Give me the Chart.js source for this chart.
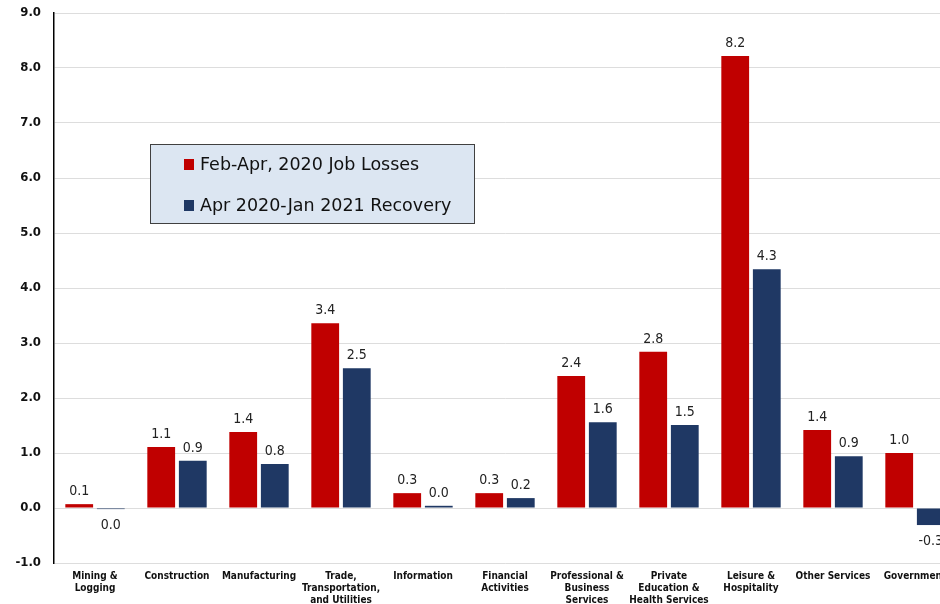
<!DOCTYPE html>
<html>
<head>
<meta charset="utf-8">
<title>Job Losses and Recovery by Industry</title>
<script src="https://cdn.jsdelivr.net/npm/chart.js@4/dist/chart.umd.min.js"></script>
<style>
  html, body { margin: 0; padding: 0; background: #fff; overflow: hidden; }
  #wrap { position: relative; width: 990px; height: 604px; }
</style>
</head>
<body>
<div id="wrap"><canvas id="c"></canvas></div>
<script>
// Industries (multi-line axis labels)
const industries = [
  ['Mining &', 'Logging'],
  ['Construction'],
  ['Manufacturing'],
  ['Trade,', 'Transportation,', 'and Utilities'],
  ['Information'],
  ['Financial', 'Activities'],
  ['Professional &', 'Business', 'Services'],
  ['Private', 'Education &', 'Health Services'],
  ['Leisure &', 'Hospitality'],
  ['Other Services'],
  ['Government']
];

// Millions of jobs
const jobLosses = [0.07, 1.11, 1.38, 3.36, 0.27, 0.27, 2.40, 2.84, 8.22, 1.42, 1.00];
const recovery  = [-0.02, 0.86, 0.80, 2.54, 0.04, 0.18, 1.56, 1.51, 4.34, 0.94, -0.31];

const seriesNames = ['Feb-Apr, 2020 Job Losses', 'Apr 2020-Jan 2021 Recovery'];
const seriesColors = ['#C00000', '#1F3864'];

const yTicks = { min: -1, max: 9, step: 1 };

const FONT = "'DejaVu Sans Condensed', 'DejaVu Sans', sans-serif";
const LEGEND_FONT = "'DejaVu Sans', sans-serif";

function fmt(v) {
  let s = v.toFixed(1);
  if (s === '-0.0') s = '0.0';
  return s;
}

// Value labels above (or below) each bar
const valueLabels = {
  id: 'valueLabels',
  afterDatasetsDraw(chart) {
    const ctx = chart.ctx;
    ctx.save();
    ctx.font = '14px ' + FONT;
    ctx.fillStyle = '#222';
    ctx.textAlign = 'center';
    ctx.textBaseline = 'alphabetic';
    chart.data.datasets.forEach((ds, di) => {
      const meta = chart.getDatasetMeta(di);
      meta.data.forEach((el, i) => {
        const v = ds.data[i];
        const y = v >= 0 ? el.y - 9 : el.y + 20;
        ctx.fillText(fmt(v), el.x, y);
      });
    });
    ctx.restore();
  }
};

// Boxed legend inside the plot
const boxLegend = {
  id: 'boxLegend',
  afterDraw(chart) {
    const ctx = chart.ctx;
    ctx.save();
    const bx = 150.5, by = 144.5, bw = 324, bh = 79;
    ctx.fillStyle = '#DCE6F2';
    ctx.fillRect(bx, by, bw, bh);
    ctx.strokeStyle = '#404040';
    ctx.lineWidth = 1;
    ctx.strokeRect(bx, by, bw, bh);
    ctx.font = '17.5px ' + LEGEND_FONT;
    ctx.textBaseline = 'middle';
    ctx.textAlign = 'left';
    const rows = [165, 206];
    chart.data.datasets.forEach((ds, i) => {
      ctx.fillStyle = ds.backgroundColor;
      ctx.fillRect(184, rows[i] - 6, 10, 11);
      ctx.fillStyle = '#111';
      ctx.fillText(ds.label, 200, rows[i]);
    });
    ctx.restore();
  }
};

new Chart(document.getElementById('c'), {
  type: 'bar',
  data: {
    labels: industries,
    datasets: [
      { label: seriesNames[0], data: jobLosses, backgroundColor: seriesColors[0] },
      { label: seriesNames[1], data: recovery, backgroundColor: seriesColors[1] }
    ]
  },
  options: {
    responsive: true,
    maintainAspectRatio: false,
    animation: false,
    devicePixelRatio: 1,
    layout: { padding: { left: 0, right: 34, top: 13, bottom: 0 } },
    datasets: { bar: { categoryPercentage: 0.77, barPercentage: 0.88, borderWidth: 0 } },
    plugins: {
      legend: { display: false },
      tooltip: { enabled: false },
      title: { display: false }
    },
    scales: {
      x: {
        grid: { display: false, drawTicks: false },
        border: { display: false },
        ticks: {
          font: { family: FONT, size: 10, weight: 'bold', lineHeight: 1.2 },
          color: '#111',
          padding: 7,
          maxRotation: 0,
          autoSkip: false
        },
        afterFit(scale) { scale.height = 41; }
      },
      y: {
        min: yTicks.min,
        max: yTicks.max,
        grid: { color: '#DDDDDD', lineWidth: 1, drawTicks: false },
        border: { color: '#000', width: 1.5 },
        ticks: {
          stepSize: yTicks.step,
          font: { family: FONT, size: 13, weight: 'bold' },
          color: '#111',
          padding: 13,
          callback: v => Number(v).toFixed(1)
        },
        afterFit(scale) {
          scale.width = 54;
          scale.paddingTop = 0;
          scale.paddingBottom = 0;
        }
      }
    }
  },
  plugins: [valueLabels, boxLegend]
});
</script>
</body>
</html>
